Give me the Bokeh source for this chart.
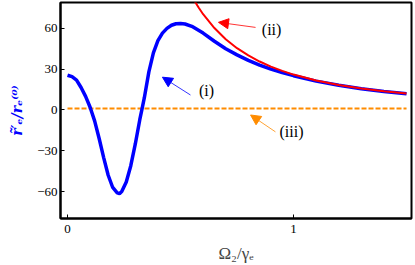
from bokeh.plotting import figure
from bokeh.models import Range1d, FixedTicker, Label, Arrow, NormalHead
from bokeh.embed import file_html
from bokeh.resources import INLINE

# ---- data ----
blue_x = [0.0, 0.02, 0.04, 0.06, 0.08, 0.10, 0.12, 0.14, 0.16, 0.18, 0.20, 0.22, 0.23,
          0.24, 0.26, 0.28, 0.30, 0.32, 0.33, 0.34, 0.36, 0.38, 0.40, 0.42, 0.44, 0.46,
          0.48, 0.50, 0.52, 0.55, 0.60, 0.65, 0.70, 0.75, 0.80, 0.85, 0.90, 0.95, 1.0,
          1.1, 1.2, 1.3, 1.4, 1.5]
blue_y = [25.5, 24.5, 22.0, 16.5, 10.0, 2.0, -8.0, -21.0, -35.0, -48.0, -57.0, -61.0, -61.5,
          -60.0, -53.0, -41.0, -25.0, -7.0, 1.0, 9.0, 28.0, 42.0, 51.0, 56.5, 60.0, 62.3,
          63.4, 63.6, 63.2, 61.5, 56.5, 50.5, 45.0, 40.5, 36.5, 33.0, 30.0, 27.5, 25.2,
          21.2, 18.1, 15.6, 13.6, 12.0]

red_x = [0.55, 0.56, 0.58, 0.60, 0.65, 0.70, 0.75, 0.80, 0.85, 0.90, 0.95, 1.0,
         1.1, 1.2, 1.3, 1.4, 1.5]
red_y = [83.6, 80.7, 75.3, 70.4, 60.2, 52.0, 45.4, 40.1, 35.6, 31.9, 28.7, 26.0,
         21.7, 18.4, 15.8, 13.8, 12.1]

orange_x = [0.0, 1.5]
orange_y = [1.0, 1.0]

x_ticks = [0, 1]
y_ticks = [-60, -30, 0, 30, 60]
y_tick_labels = {-60: "\u221260", -30: "\u221230", 0: "0", 30: "30", 60: "60"}

# annotation texts / positions (data coords)
ann_text = ["(i)", "(ii)", "(iii)"]
ann_pos = [(0.615, 14.6), (0.903, 59.3), (0.991, -16.1)]
arrow_start = [(0.544, 11.0), (0.832, 60.7), (0.920, -16.1)]
arrow_end = [(0.420, 24.1), (0.668, 64.4), (0.810, -3.7)]
ann_color = ["#0000ff", "#ff0000", "#ff8c00"]

p = figure(width=415, height=265, output_backend="svg", toolbar_location=None,
           x_range=Range1d(-0.031, 1.522), y_range=Range1d(-79.8, 79.0),
           min_border_left=60, min_border_right=4, min_border_top=2, min_border_bottom=46)

p.grid.visible = False
p.outline_line_color = "black"
p.outline_line_width = 2
p.background_fill_color = "white"
p.border_fill_color = "white"

for ax in (p.xaxis[0], p.yaxis[0]):
    ax.axis_line_color = "black"
    ax.axis_line_width = 2
    ax.major_tick_in = 4
    ax.major_tick_out = 0
    ax.minor_tick_line_color = None
    ax.major_tick_line_color = "black"
    ax.major_label_text_font = "Liberation Serif"
    ax.major_label_text_font_size = "13px"
    ax.major_label_text_color = "black"

p.xaxis.ticker = FixedTicker(ticks=x_ticks)
p.yaxis.ticker = FixedTicker(ticks=y_ticks)
p.yaxis.major_label_overrides = y_tick_labels
p.xaxis.major_label_standoff = 6
p.yaxis.major_label_standoff = 3

p.xaxis.axis_label = "\u03a9\u2082/\u03b3\u2091"
p.xaxis.axis_label_text_font = "Liberation Serif"
p.xaxis.axis_label_text_font_style = "normal"
p.xaxis.axis_label_text_font_size = "17px"
p.xaxis.axis_label_standoff = 8

p.yaxis.axis_label = "r\u0303\u2032\u2091/r\u2091\u207d\u2070\u207e"
p.yaxis.axis_label_text_font = "DejaVu Serif"
p.yaxis.axis_label_text_font_style = "bold italic"
p.yaxis.axis_label_text_font_size = "14px"
p.yaxis.axis_label_text_color = "#0000ff"
p.yaxis.axis_label_standoff = 9

p.line(orange_x, orange_y, line_color="#ff8c00", line_width=2, line_dash="5 2")
p.line(blue_x, blue_y, line_color="#0000ff", line_width=3.5)
p.line(red_x, red_y, line_color="#ff0000", line_width=2)

for t, (tx, ty), (sx, sy), (ex, ey), c in zip(ann_text, ann_pos, arrow_start, arrow_end, ann_color):
    p.add_layout(Label(x=tx, y=ty, text=t, text_font="Liberation Serif", text_font_size="16px",
                       text_align="center", text_baseline="middle", text_color="black"))
    p.add_layout(Arrow(x_start=sx, y_start=sy, x_end=ex, y_end=ey, line_color=c, line_width=0.8,
                       end=NormalHead(size=10, fill_color=c, line_color=c, line_width=1)))

open("out.html", "w").write(file_html(p, INLINE))
